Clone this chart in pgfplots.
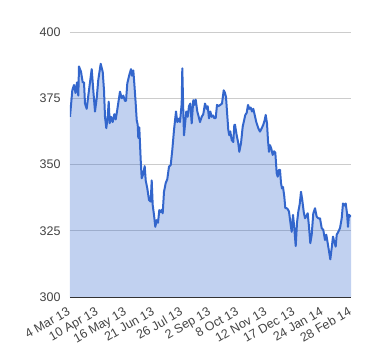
\documentclass[border=0pt]{standalone}
\usepackage{pgfplots}
\pgfplotsset{compat=1.18}
\usepackage{fontspec}
\setmainfont{Liberation Sans}
\definecolor{linec}{HTML}{3366CC}
\definecolor{gridc}{HTML}{CCCCCC}
\definecolor{labc}{HTML}{444444}
\definecolor{basec}{HTML}{333333}
\pgfplotstableread{
x y
0 368
2.3 378
4 380
5.5 377
7 381
8.3 376
9 387
11 385
12.7 381
14 381
15 373
16.7 371
18.3 376
21.7 386
23.3 378
25 370
26.7 375
28.3 382
30.7 388
32.7 385
34 378
35 368
36.3 363.7
37.7 368
38.7 373.7
39.7 365.6
41 368
42.7 366
44.3 369
45.7 367
47 370
49 375
50 377.5
51.7 375
53.3 376
55 374
56 374
57.3 380.6
59.3 383.8
61 386
62 383.5
63.3 385.5
64.3 380.6
65.7 373
66.7 366.8
67.7 365
68.3 360
69.3 364
70.7 351.7
71.7 344.8
73.3 346.5
74.7 349.4
75.7 344
77.3 341
79 336.6
80.7 336
81.7 344
82.7 334.7
84 331
85.3 326.5
86.7 329
88 328
89.3 332.8
90.7 332
92 333
92.7 331.6
94 339.7
95.7 343
97.3 344.5
99 349.2
100.7 349.8
102.3 355.5
104 363
106 370
107.3 366
109.3 367.4
110 366
111.7 373
112.3 386.3
113.3 370
114 361
115 365
116.3 370
117.7 368
119 372
120.3 373
121.7 365.5
123.3 374.3
124.3 372.5
125.7 374.5
127.3 370
128.7 368
130 366
131.7 368
133.3 369
135 373
136.7 371
137.7 372
139 367.4
140.3 370
141.7 368
143 368.5
144.3 367.5
145.7 367.5
147 372.5
148.3 372
150.3 372.5
152 373
153.7 378
155 377
156 375.5
157 370
158.3 363
159.3 361
160.3 362.5
161.7 359.2
163.3 358.5
164.3 364.9
165 365
166.7 361
168.3 358
169.3 354.8
171 358
172.7 364.3
174 366.5
175.3 368.7
176.7 369.5
178 372.5
179.3 371
180.7 371.5
182 370
183.3 371
184.7 368.7
186.3 366
188.3 363.7
190 362.4
191.7 363.7
193.3 365
194.7 366.8
195.7 368.7
197 365.5
198 359
199 354.8
200 357.3
201.3 356
202.7 353.6
204 355
205.3 354.5
206.7 346.7
207.7 345.4
209 348
210 348
211 343
212 341
213 341.5
214.3 337.9
215.3 333.5
216.7 333.5
218 333
219 332.2
220.7 327.2
221.7 324.6
223 331
224.3 326
225.7 319.2
227 328
228.3 332.2
229.7 335
231 339.7
232.3 336.5
233.7 332.2
235 329.7
236.3 330.5
237.7 331.6
239 326.5
240.3 320.3
241.7 323.5
243.3 331.6
245 333.5
246.7 330.3
248.3 329.7
250 329.7
251.7 326
253.3 325.3
255 321.5
256.3 323.5
257.7 320.3
259 317.3
260.3 314.2
261.7 318.5
263 322.8
264.3 320.8
265.7 319
266.7 323.5
268.3 324.6
270 326
271.7 329.7
273 335.3
274.3 334.5
275.7 335.3
277 331.6
278 326.5
279 331
281 330.3
}\pricedata
\begin{document}
\begin{tikzpicture}
\path[use as bounding box] (-70pt,-63pt) rectangle (310pt,297pt);
\begin{axis}[
  at={(0,0)}, anchor=south west,
  scale only axis, width=281pt, height=265pt,
  xmin=0, xmax=281, ymin=300, ymax=400,
  ytick={300,325,350,375,400},
  xtick={0,28.1,56.2,84.3,112.4,140.5,168.6,196.7,224.8,252.9,281},
  xticklabels={4 Mar 13,10 Apr 13,16 May 13,21 Jun 13,26 Jul 13,2 Sep 13,8 Oct 13,12 Nov 13,17 Dec 13,24 Jan 14,28 Feb 14},
  axis line style={draw=none},
  major tick length=0pt,
  ymajorgrids, grid style={gridc, line width=1pt},
  tick label style={font=\fontsize{12.5}{15}\selectfont, text=labc},
  yticklabel style={xshift=-6pt},
  xticklabel style={xshift=-3pt, yshift=-8pt, rotate=30, anchor=north east, inner sep=1pt},
  /pgf/number format/assume math mode=true,
]
\addplot[draw=none, fill=linec, fill opacity=0.3] table {\pricedata} \closedcycle;
\addplot[linec, line width=2pt, line join=round] table {\pricedata};
\draw[basec, line width=1pt] (axis cs:0,300) -- (axis cs:281,300);
\end{axis}
\end{tikzpicture}
\end{document}
